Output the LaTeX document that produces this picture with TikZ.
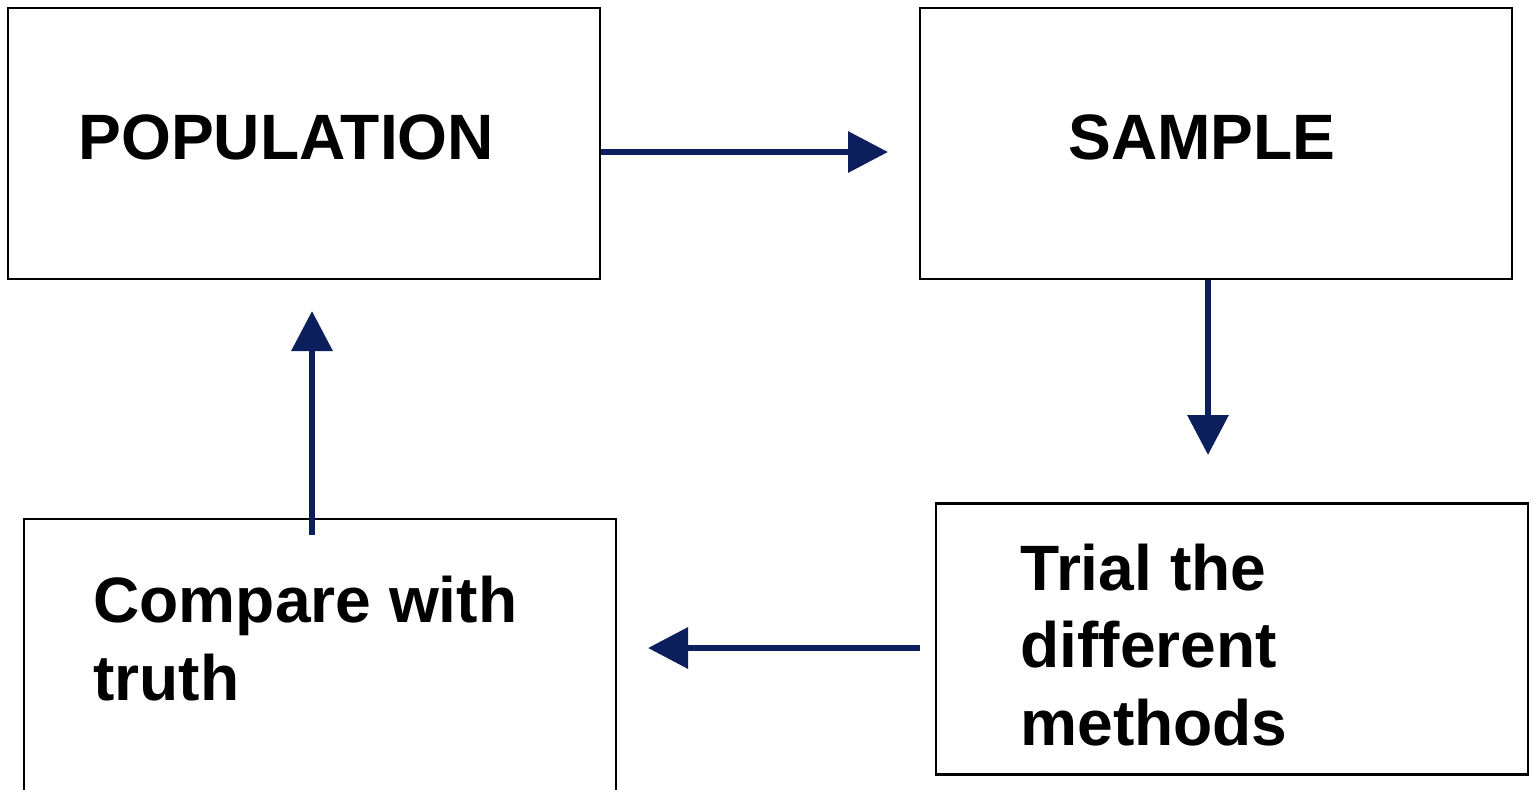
\documentclass[tikz,border=0pt]{standalone}
\usepackage{fontspec}
\setmainfont{Liberation Sans}
\usetikzlibrary{arrows.meta}

\definecolor{navy}{HTML}{0B1F5C}

\tikzset{
	box/.style={draw=black, line width=1.4pt, minimum width=11.84cm, minimum height=5.42cm, inner sep=0pt},
	label/.style={anchor=base west, inner sep=0pt, align=left, font=\fontsize{36.5}{43.9}\selectfont\bfseries},
	flow/.style={navy, line width=0.13cm, -{Triangle[length=0.8cm, width=0.8cm]}},
}

\begin{document}
\begin{tikzpicture}[x=0.02cm, y=-0.02cm]
		\useasboundingbox (0,0) rectangle (1535,789);

		% boxes
		\node [box] at (304,143.5) (pop) {};
		\node [box] at (1216,143.5) (samp) {};
		\node [box] at (1232,639) (trial) {};
		\node [box, minimum height=5.52cm] at (320,657) (comp) {};

		% texts (base = last line)
		\node [label] at (78,159) (poptext) {POPULATION};
		\node [label] at (1068,159) (samptext) {SAMPLE};
		\node [label] at (1020,745) (trialtext) {Trial the\\different\\methods};
		\node [label] at (93,700) (comptext) {Compare with\\truth};

		% arrow ends
		\coordinate (tipa) at (888,152);
		\coordinate (tipb) at (1208,455);
		\coordinate (startc) at (920,648);
		\coordinate (tipc) at (648,648);
		\coordinate (startd) at (312,535);
		\coordinate (tipd) at (312,311);

		\draw [flow] (pop.east |- tipa) -- (tipa);
		\draw [flow] (samp.south -| tipb) -- (tipb);
		\draw [flow] (startc) -- (tipc);
		\draw [flow] (startd) -- (tipd);
	\end{tikzpicture}
\end{document}
